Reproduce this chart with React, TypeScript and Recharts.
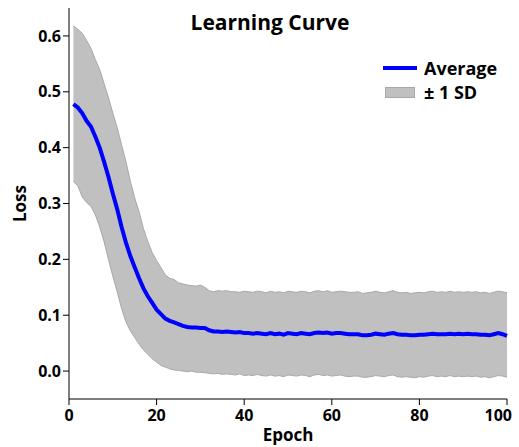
import React from "react";
import { ComposedChart, Area, Line, XAxis, YAxis } from "recharts";

const epochs: number[] = Array.from({ length: 100 }, (_, i) => i + 1);

const meanLoss: number[] = [
  0.478, 0.472, 0.462, 0.448, 0.438, 0.42, 0.4, 0.375, 0.348, 0.318,
  0.29, 0.258, 0.23, 0.206, 0.186, 0.166, 0.148, 0.134, 0.122, 0.11,
  0.102, 0.094, 0.09, 0.087, 0.084, 0.081, 0.079, 0.078, 0.078, 0.077,
  0.077, 0.073, 0.071, 0.071, 0.07, 0.071, 0.07, 0.069, 0.07, 0.068,
  0.068, 0.067, 0.068, 0.067, 0.066, 0.068, 0.066, 0.067, 0.065, 0.068,
  0.067, 0.066, 0.068, 0.067, 0.066, 0.068, 0.069, 0.068, 0.069, 0.067,
  0.068, 0.068, 0.067, 0.066, 0.066, 0.066, 0.064, 0.064, 0.065, 0.067,
  0.066, 0.065, 0.067, 0.068, 0.066, 0.065, 0.065, 0.064, 0.064, 0.065,
  0.065, 0.066, 0.067, 0.066, 0.066, 0.066, 0.067, 0.066, 0.067, 0.066,
  0.067, 0.066, 0.066, 0.065, 0.065, 0.064, 0.066, 0.068, 0.066, 0.063,
];

const upperBand: number[] = [
  0.618, 0.612, 0.605, 0.592, 0.578, 0.558, 0.54, 0.515, 0.49, 0.462,
  0.436, 0.405, 0.375, 0.34, 0.31, 0.285, 0.255, 0.232, 0.212, 0.198,
  0.185, 0.172, 0.166, 0.164, 0.158, 0.156, 0.154, 0.153, 0.152, 0.154,
  0.15, 0.144, 0.142, 0.144, 0.143, 0.144, 0.142, 0.142, 0.141, 0.143,
  0.142, 0.141, 0.143, 0.142, 0.14, 0.143, 0.141, 0.142, 0.14, 0.143,
  0.142, 0.141, 0.143, 0.142, 0.14, 0.143, 0.144, 0.142, 0.144, 0.141,
  0.142, 0.143, 0.142, 0.141, 0.141, 0.142, 0.139, 0.14, 0.141, 0.143,
  0.141, 0.14, 0.142, 0.144, 0.141, 0.14, 0.141, 0.139, 0.14, 0.141,
  0.14, 0.142, 0.143, 0.141, 0.142, 0.141, 0.143, 0.141, 0.142, 0.141,
  0.142, 0.141, 0.142, 0.14, 0.141, 0.139, 0.141, 0.143, 0.142, 0.14,
];

const lowerBand: number[] = [
  0.339, 0.332, 0.312, 0.302, 0.295, 0.28, 0.258, 0.232, 0.2, 0.17,
  0.142, 0.112, 0.088, 0.072, 0.06, 0.048, 0.038, 0.03, 0.022, 0.016,
  0.01, 0.007, 0.004, 0.002, 0.001, 0.0, -0.001, 0.0, -0.002, -0.002,
  -0.003, -0.004, -0.005, -0.004, -0.006, -0.005, -0.006, -0.007, -0.005, -0.008,
  -0.007, -0.008, -0.006, -0.008, -0.009, -0.007, -0.009, -0.008, -0.01, -0.007,
  -0.008, -0.009, -0.007, -0.008, -0.01, -0.007, -0.006, -0.008, -0.007, -0.009,
  -0.008, -0.007, -0.009, -0.01, -0.009, -0.009, -0.011, -0.011, -0.01, -0.008,
  -0.009, -0.01, -0.008, -0.007, -0.01, -0.011, -0.01, -0.011, -0.012, -0.01,
  -0.011, -0.009, -0.008, -0.01, -0.009, -0.01, -0.008, -0.01, -0.009, -0.01,
  -0.009, -0.01, -0.009, -0.011, -0.01, -0.012, -0.01, -0.008, -0.009, -0.011,
];

const xTicks: number[] = [0, 20, 40, 60, 80, 100];
const yTicks: number[] = [0, 0.1, 0.2, 0.3, 0.4, 0.5, 0.6];

const data = epochs.map((e, i) => ({
  epoch: e,
  mean: meanLoss[i],
  band: [lowerBand[i], upperBand[i]],
}));

const font = "'Open Sans', 'DejaVu Sans', sans-serif";
const tickStyle = { fill: "#000", fontSize: 16, fontWeight: 700, fontFamily: font };
const labelStyle = { fill: "#000", fontSize: 17, fontWeight: 700, fontFamily: font };

// last x label would run off the right edge, nudge it inward
const XTick = (props: any) => {
  const { x, y, payload } = props;
  const last = payload.value === xTicks[xTicks.length - 1];
  return (
    <text
      x={last ? x + 5 : x}
      y={y}
      dy={14}
      textAnchor={last ? "end" : "middle"}
      style={tickStyle}
    >
      {payload.value}
    </text>
  );
};

// legend drawn as an overlay so it doesn't eat into the plot area
const LegendBox = () => (
  <div
    style={{
      position: "absolute",
      left: 383,
      top: 56,
      fontFamily: font,
      fontWeight: 700,
      fontSize: 18,
      color: "#000",
      lineHeight: "22px",
    }}
  >
    <div style={{ display: "flex", alignItems: "center", height: 24 }}>
      <div style={{ width: 34, height: 4, background: "#0000ff", marginRight: 7 }} />
      <span>Average</span>
    </div>
    <div style={{ display: "flex", alignItems: "center", height: 24 }}>
      <div
        style={{
          width: 28,
          height: 9,
          background: "#c0c0c0",
          border: "1px solid #a8a8a8",
          marginLeft: 2,
          marginRight: 9,
        }}
      />
      <span>± 1 SD</span>
    </div>
  </div>
);

export default function App() {
  return (
    <div style={{ position: "fixed", left: 0, top: 0, width: 519, height: 447, background: "#fff" }}>
      <ComposedChart
        width={519}
        height={447}
        data={data}
        margin={{ top: 8, right: 12, bottom: 0, left: 0 }}
      >
        <text
          x={270}
          y={30}
          textAnchor="middle"
          style={{ fontFamily: font, fontWeight: 700, fontSize: 21 }}
        >
          Learning Curve
        </text>
        <XAxis
          dataKey="epoch"
          type="number"
          domain={[0, 100]}
          ticks={xTicks}
          tick={<XTick />}
          tickSize={6}
          height={48}
          stroke="#000"
          label={{
            value: "Epoch",
            position: "insideBottom",
            offset: 6,
            style: labelStyle,
          }}
        />
        <YAxis
          type="number"
          domain={[-0.05, 0.65]}
          ticks={yTicks}
          width={69}
          tick={tickStyle}
          tickSize={6}
          stroke="#000"
          tickFormatter={(v: number) => v.toFixed(1)}
          label={{
            value: "Loss",
            angle: -90,
            position: "insideLeft",
            offset: 20,
            style: { ...labelStyle, textAnchor: "middle" },
          }}
        />
        <Area
          dataKey="band"
          type="linear"
          fill="#c0c0c0"
          fillOpacity={1}
          stroke="#a8a8a8"
          strokeWidth={1}
          isAnimationActive={false}
        />
        <Line
          dataKey="mean"
          type="linear"
          stroke="#0000ff"
          strokeWidth={4}
          dot={false}
          isAnimationActive={false}
        />
      </ComposedChart>
      <LegendBox />
    </div>
  );
}
